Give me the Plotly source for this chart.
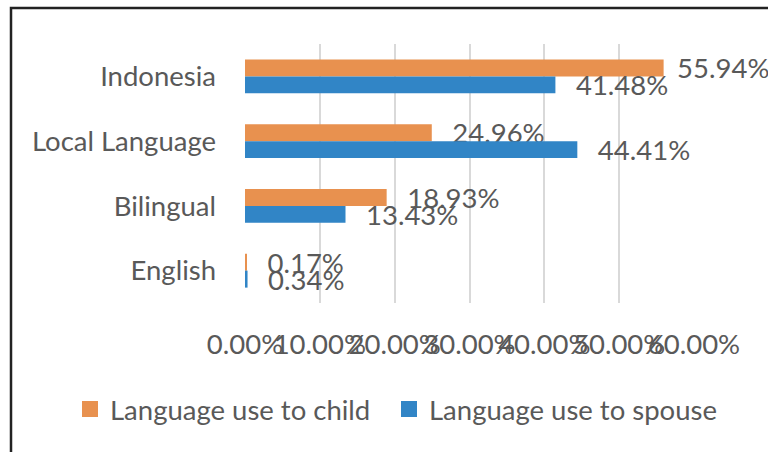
import plotly.graph_objects as go

categories = ["Indonesia", "Local Language", "Bilingual", "English"]
child_values = [0.5594, 0.2496, 0.1893, 0.0017]
spouse_values = [0.4148, 0.4441, 0.1343, 0.0034]
series_names = ["Language use to child", "Language use to spouse"]
colors = ["#E8914F", "#3185C6"]
x_ticks = [0, 0.1, 0.2, 0.3, 0.4, 0.5, 0.6]

FONT = "Lato"
GRAY = "#595959"
FS = 27.5

NB = "\u00a0"
TH = "\u2009"
gap_long = NB * 2 + TH + "%{x:.2%}"
gap_short = NB + TH + "%{x:.2%}"
templates = {
    "Language use to child": [gap_short, gap_long, gap_long, gap_long],
    "Language use to spouse": [gap_long, gap_long, gap_long, gap_long],
}
legend_ids = ["legend", "legend2"]

fig = go.Figure()
for name, vals, col, lg in zip(series_names, [child_values, spouse_values], colors, legend_ids):
    fig.add_trace(go.Bar(
        y=categories, x=vals, orientation="h", name=name,
        marker=dict(color=col, line=dict(width=0)),
        texttemplate=templates[name], textposition="outside",
        constraintext="none", cliponaxis=False,
        textfont=dict(family=FONT, size=FS, color=GRAY),
        showlegend=False,
    ))
    fig.add_trace(go.Scatter(
        x=[None], y=[None], mode="markers", name=name,
        marker=dict(symbol="square", size=17, color=col),
        showlegend=True, legend=lg,
    ))

L, R, T, B = 245, 74, 44, 149
W, H = 768, 452
pw = W - L - R
ph = H - T - B

legend_common = dict(orientation="h", xref="container", yref="container",
                     xanchor="left", y=1 - 409 / H, yanchor="middle",
                     font=dict(family=FONT, size=FS, color=GRAY),
                     bgcolor="rgba(0,0,0,0)", itemclick=False)

fig.update_layout(
    width=W, height=H,
    margin=dict(l=L, r=R, t=T, b=B, autoexpand=False),
    paper_bgcolor="white", plot_bgcolor="white",
    barmode="group", bargap=0.475, bargroupgap=0,
    font=dict(family=FONT, size=FS, color=GRAY),
    xaxis=dict(range=[0, 0.6], tickvals=x_ticks, tickformat=".2%",
               tickangle=0, automargin=False,
               showgrid=True, gridcolor="#D9D9D9", gridwidth=2,
               zeroline=False, showline=False, ticks="",
               ticklabelstandoff=22,
               tickfont=dict(family=FONT, size=FS, color=GRAY)),
    yaxis=dict(autorange="reversed", showgrid=False, zeroline=False,
               automargin=False,
               showline=False, ticks="", ticklabelstandoff=28,
               tickfont=dict(family=FONT, size=FS, color=GRAY)),
    legend=dict(x=70 / W, **legend_common),
    legend2=dict(x=389 / W, **legend_common),
    shapes=[dict(type="rect", xref="paper", yref="paper",
                 x0=(11 - L) / pw, x1=(W + 50 - L) / pw,
                 y0=-(H + 50 - T - ph) / ph - 0.5, y1=(H - B - 8) / ph,
                 line=dict(color="#222222", width=2.5), fillcolor="rgba(0,0,0,0)",
                 layer="above")],
)

fig.write_html("out.html",
               config={"displayModeBar": False},
               post_script="document.body.style.margin='0';document.body.style.overflow='hidden';")
